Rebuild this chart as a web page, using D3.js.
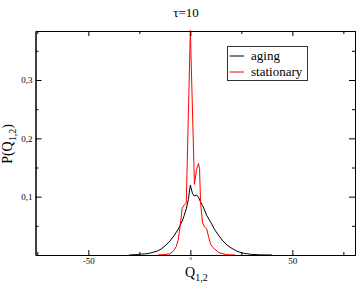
<!DOCTYPE html>
<html>
<head>
<meta charset="utf-8">
<script src="https://cdn.jsdelivr.net/npm/d3@7"></script>
<style>
  body { margin: 0; background: #fff; }
</style>
</head>
<body>
<div id="chart"></div>
<script>
// aging curve, Q and P
var agingQ = [-30, -26, -24, -22, -20, -18, -16, -14, -12, -10, -8, -6, -4, -3, -2, -1, 0, 1, 2, 3, 4, 5, 6, 8, 10, 12, 14, 16, 18, 20, 22, 24, 26, 28, 30, 34, 40];
var agingP = [0, 0.0008, 0.0015, 0.002, 0.003, 0.005, 0.007, 0.011, 0.017, 0.024, 0.033, 0.044, 0.058, 0.068, 0.079, 0.095, 0.12, 0.106, 0.101, 0.103, 0.099, 0.091, 0.085, 0.068, 0.056, 0.043, 0.033, 0.024, 0.017, 0.012, 0.008, 0.005, 0.003, 0.002, 0.001, 0.0003, 0];

// stationary curve
var statQ = [-16, -12, -10, -8, -7, -6, -5, -4, -3, -2, 0, 2, 3, 4, 4.5, 5, 6, 7, 8, 9, 10, 11, 12, 14, 16, 18, 22];
var statP = [0, 0.001, 0.002, 0.008, 0.014, 0.025, 0.05, 0.08, 0.086, 0.089, 0.385, 0.121, 0.146, 0.157, 0.148, 0.09, 0.055, 0.048, 0.045, 0.03, 0.018, 0.013, 0.01, 0.004, 0.002, 0.0005, 0];

var xMajor = [-50, 0, 50];
var xMinor = [-75, -25, 25, 75];
var yMajor = [0.1, 0.2, 0.3];
var yMinor = [0.05, 0.15, 0.25, 0.35];

var title = "\u03c4=10";
var seriesNames = ["aging", "stationary"];
var seriesColors = ["#000000", "#ff0000"];

var serif = '"Liberation Serif", "Times New Roman", Times, "DejaVu Serif", serif';
var width = 357, height = 286;
var pLeft = 35.5, pRight = 355, pTop = 31, pBottom = 255;

var svg = d3.select("#chart").append("svg")
    .attr("width", width)
    .attr("height", height)
    .style("font-family", serif);

var x = d3.scaleLinear().domain([-75.9, 80.7]).range([pLeft, pRight]);
var y = d3.scaleLinear().domain([0, 0.384]).range([pBottom, pTop]);

var fmtY = function(d) { return d3.format(".1f")(d).replace(".", ","); };
var fmtX = function(d) { return String(d); };

// curves
var line = d3.line()
    .x(function(d) { return x(d[0]); })
    .y(function(d) { return y(d[1]); });

var aging = d3.zip(agingQ, agingP);
var stat = d3.zip(statQ, statP);

svg.append("path")
    .datum(aging)
    .attr("fill", "none")
    .attr("stroke", seriesColors[0])
    .attr("stroke-width", 1)
    .attr("d", line);

svg.append("path")
    .datum(stat)
    .attr("fill", "none")
    .attr("stroke", seriesColors[1])
    .attr("stroke-width", 1)
    .attr("d", line);

// axes, ticks inward on all sides
function styleAxis(g) {
  g.attr("font-family", null);
  g.selectAll("text").style("font-family", serif).attr("font-size", 9).attr("fill", "#000");
  g.selectAll("line").attr("stroke", "#000");
  g.select(".domain").attr("stroke", "#000");
}

var xb = svg.append("g")
    .attr("transform", "translate(0," + pBottom + ")")
    .call(d3.axisBottom(x).tickValues(xMajor).tickSize(-5).tickPadding(3).tickFormat(fmtX).tickSizeOuter(0))
    .call(styleAxis);
// the 0 label is squeezed under the axis in the original
xb.selectAll(".tick text").filter(function(d) { return d === 0; })
    .attr("font-size", 5).attr("y", 1);
svg.append("g")
    .attr("transform", "translate(0," + pBottom + ")")
    .call(d3.axisBottom(x).tickValues(xMinor).tickSize(-3).tickFormat("").tickSizeOuter(0))
    .call(styleAxis);
svg.append("g")
    .attr("transform", "translate(0," + pTop + ")")
    .call(d3.axisTop(x).tickValues(xMajor).tickSize(-5).tickFormat("").tickSizeOuter(0))
    .call(styleAxis);
svg.append("g")
    .attr("transform", "translate(0," + pTop + ")")
    .call(d3.axisTop(x).tickValues(xMinor).tickSize(-3).tickFormat("").tickSizeOuter(0))
    .call(styleAxis);

svg.append("g")
    .attr("transform", "translate(" + pLeft + ",0)")
    .call(d3.axisLeft(y).tickValues(yMajor).tickSize(-6).tickPadding(3).tickFormat(fmtY).tickSizeOuter(0))
    .call(styleAxis);
svg.append("g")
    .attr("transform", "translate(" + pLeft + ",0)")
    .call(d3.axisLeft(y).tickValues(yMinor).tickSize(-3).tickFormat("").tickSizeOuter(0))
    .call(styleAxis);
svg.append("g")
    .attr("transform", "translate(" + pRight + ",0)")
    .call(d3.axisRight(y).tickValues(yMajor).tickSize(-6).tickFormat("").tickSizeOuter(0))
    .call(styleAxis);
svg.append("g")
    .attr("transform", "translate(" + pRight + ",0)")
    .call(d3.axisRight(y).tickValues(yMinor).tickSize(-3).tickFormat("").tickSizeOuter(0))
    .call(styleAxis);

// title
svg.append("text")
    .attr("x", 186)
    .attr("y", 17)
    .attr("text-anchor", "middle")
    .attr("font-size", 13)
    .text(title);

// x label
var xl = svg.append("text")
    .attr("x", 185)
    .attr("y", 277)
    .attr("font-size", 14);
xl.append("tspan").text("Q");
xl.append("tspan").attr("font-size", 10).attr("dy", 4).text("1,2");

// y label
var yl = svg.append("text")
    .attr("transform", "translate(12,144) rotate(-90)")
    .attr("text-anchor", "middle")
    .attr("font-size", 14);
yl.append("tspan").text("P(Q");
yl.append("tspan").attr("font-size", 10).attr("dy", 4).text("1,2");
yl.append("tspan").attr("dy", -4).text(")");

// legend
var lg = svg.append("g");
lg.append("rect")
    .attr("x", 227.5).attr("y", 46.5)
    .attr("width", 80).attr("height", 34)
    .attr("fill", "#fff")
    .attr("stroke", "#333");
seriesNames.forEach(function(name, i) {
  var ly = 56 + i * 16;
  lg.append("line")
      .attr("x1", 229.5).attr("x2", 244)
      .attr("y1", ly).attr("y2", ly)
      .attr("stroke", seriesColors[i]);
  lg.append("text")
      .attr("x", 251).attr("y", ly + 4)
      .attr("font-size", 13)
      .text(name);
});
</script>
</body>
</html>
